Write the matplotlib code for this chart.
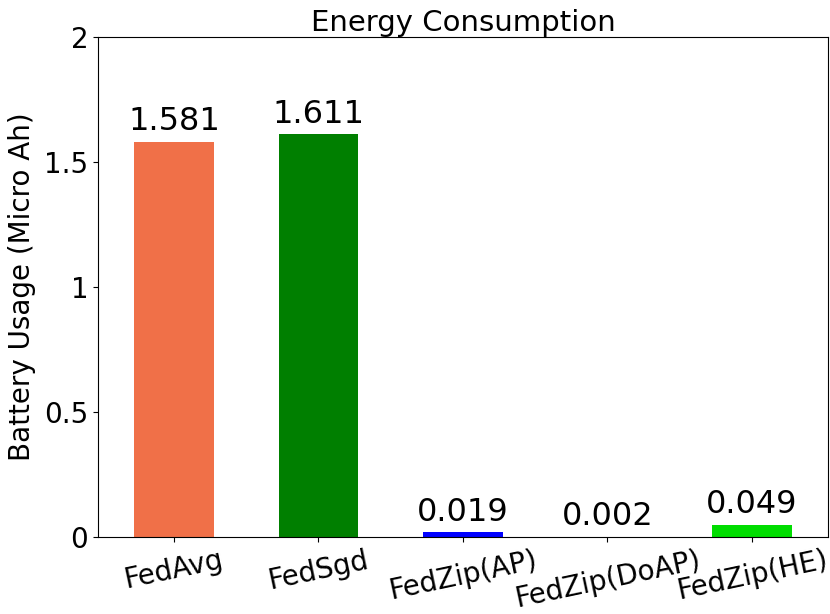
import matplotlib
matplotlib.use("Agg")
import matplotlib.pyplot as plt

methods = ["FedAvg", "FedSgd", "FedZip(AP)", "FedZip(DoAP)", "FedZip(HE)"]
battery = [1.581, 1.611, 0.019, 0.002, 0.049]
labels = ["1.581", "1.611", "0.019", "0.002", "0.049"]
colors = ["#F07048", "#007F00", "#0000FF", "#F07048", "#00DD00"]
yticks = [0, 0.5, 1, 1.5, 2]
ytick_labels = ["0", "0.5", "1", "1.5", "2"]

fig = plt.figure(figsize=(8.3, 6.14), dpi=100)
ax = fig.add_axes([0.118, 0.1254, 0.8796, 0.8143])
x = list(range(len(methods)))
bars = ax.bar(x, battery, width=0.55, color=colors)
for xi, v, lab in zip(x, battery, labels):
    ax.text(xi, v + 0.018, lab, ha="center", va="bottom", fontsize=23)
ax.set_xlim(-0.526, 4.526)
ax.set_ylim(0, 2)
ax.set_yticks(yticks)
ax.set_yticklabels(ytick_labels, fontsize=20)
ax.set_xticks(x)
ax.set_xticklabels(methods, rotation=12, ha="center", fontsize=20)
ax.tick_params(axis="x", pad=3)
ax.set_ylabel("Battery Usage (Micro Ah)", fontsize=20, labelpad=6)
ax.set_title("Energy Consumption", fontsize=21, pad=4)
fig.savefig("out.png", dpi=100)
